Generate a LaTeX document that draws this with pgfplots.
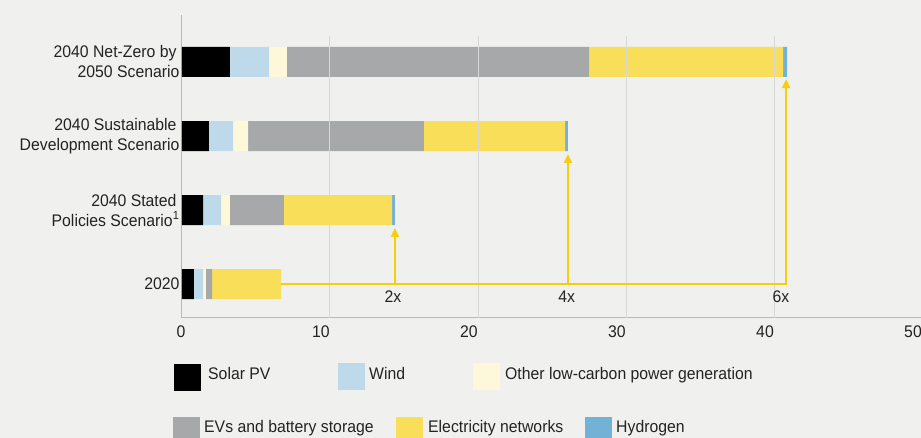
\documentclass[border=0pt]{standalone}
\usepackage{fontspec}
\setmainfont{Liberation Sans}[FakeStretch=0.94]
\usepackage{pgfplots}
\pgfplotsset{compat=1.18}
\usetikzlibrary{arrows.meta}
\definecolor{bg}{RGB}{240,240,238}
\definecolor{txt}{RGB}{35,35,35}
\definecolor{axisc}{RGB}{185,185,185}
\definecolor{gridc}{RGB}{216,216,216}
\definecolor{solar}{RGB}{0,0,0}
\definecolor{wind}{RGB}{190,218,234}
\definecolor{other}{RGB}{253,248,218}
\definecolor{evs}{RGB}{167,168,170}
\definecolor{elec}{RGB}{249,222,89}
\definecolor{hyd}{RGB}{116,177,214}
\definecolor{arrowc}{RGB}{247,206,10}
\pgfplotstableread{
y solar wind other evs elec hyd
0 0.81 0.61 0.20 0.41 4.66 0.00
1 1.42 1.22 0.60 3.65 7.30 0.20
2 1.82 1.63 1.01 11.89 9.53 0.20
3 3.24 2.64 1.21 20.41 13.11 0.27
}\datatable
\newcommand\fs{\fontsize{16.8}{20}\selectfont}
\begin{document}
\begin{tikzpicture}[font=\fs]
\useasboundingbox[fill=bg] (-182pt,-120pt) rectangle (739pt,318pt);
\begin{axis}[
  scale only axis, width=740pt, height=303pt,
  xmin=0, xmax=50, ymin=-0.459, ymax=3.635,
  xbar stacked, bar width=30pt,
  axis x line*=bottom, axis y line*=left,
  axis line style={draw=axisc, line width=1pt, -},
  major tick length=0pt,
  xtick={10,20,30,40,50}, ytick={0,1,2,3},
  extra x ticks={0},
  extra x tick style={xticklabel style={xshift=8pt}},
  yticklabels={2020,{2040 Stated\hspace*{3pt}\\Policies Scenario\textsuperscript{1}},{2040 Sustainable\hspace*{3pt}\\Development Scenario},{2040 Net-Zero by\hspace*{3pt}\\2050 Scenario}},
  yticklabel style={align=right, text=txt, font=\fs, xshift=1pt},
  xticklabel style={text=txt, font=\fs, xshift=-9pt, yshift=-4pt},
  /pgf/number format/assume math mode=true,
  clip=false,
  every axis plot/.append style={draw=none},
]
\foreach \g in {10,20,30,40} {
  \edef\temp{\noexpand\draw[gridc, line width=1pt] (axis cs:\g,-0.459) -- (axis cs:\g,3.35);}
  \temp
}
\addplot[fill=solar] table[x=solar,y=y]{\datatable};
\addplot[fill=wind] table[x=wind,y=y]{\datatable};
\addplot[fill=other] table[x=other,y=y]{\datatable};
\addplot[fill=evs] table[x=evs,y=y]{\datatable};
\addplot[fill=elec] table[x=elec,y=y]{\datatable};
\addplot[fill=hyd] table[x=hyd,y=y]{\datatable};
\end{axis}
\begin{axis}[
  scale only axis, width=740pt, height=303pt,
  xmin=0, xmax=50, ymin=-0.459, ymax=3.635,
  hide axis, clip=false,
]
\addplot[arrowc, line width=2pt, mark=none] coordinates {(6.69,0) (40.82,0)};
\addplot[arrowc, line width=2pt, mark=none, -{Triangle[width=8pt,length=9pt]}] coordinates {(14.39,0) (14.39,0.757)};
\addplot[arrowc, line width=2pt, mark=none, -{Triangle[width=8pt,length=9pt]}] coordinates {(26.08,0) (26.08,1.757)};
\addplot[arrowc, line width=2pt, mark=none, -{Triangle[width=8pt,length=9pt]}] coordinates {(40.82,-0.013) (40.82,2.77)};
\node[text=txt] at (axis cs:14.26,-0.17) {2x};
\node[text=txt] at (axis cs:26.0,-0.17) {4x};
\node[text=txt] at (axis cs:40.47,-0.17) {6x};
\end{axis}
% legend
\fill[solar] (-8pt,-46pt) rectangle (19pt,-73pt);
\node[anchor=mid west, inner sep=0pt, text=txt] at (26pt,-59pt) {Solar PV};
\fill[wind] (156pt,-45pt) rectangle (183pt,-72pt);
\node[anchor=mid west, inner sep=0pt, text=txt] at (187pt,-59pt) {Wind};
\fill[other] (291pt,-45pt) rectangle (318pt,-72pt);
\node[anchor=mid west, inner sep=0pt, text=txt] at (323pt,-59pt) {Other low-carbon power generation};
\fill[evs] (-9pt,-99pt) rectangle (18pt,-126pt);
\node[anchor=mid west, inner sep=0pt, text=txt] at (22pt,-112pt) {EVs and battery storage};
\fill[elec] (214pt,-99pt) rectangle (241pt,-126pt);
\node[anchor=mid west, inner sep=0pt, text=txt] at (246pt,-112pt) {Electricity networks};
\fill[hyd] (403pt,-99pt) rectangle (430pt,-126pt);
\node[anchor=mid west, inner sep=0pt, text=txt] at (434pt,-112pt) {Hydrogen};
\end{tikzpicture}
\end{document}
